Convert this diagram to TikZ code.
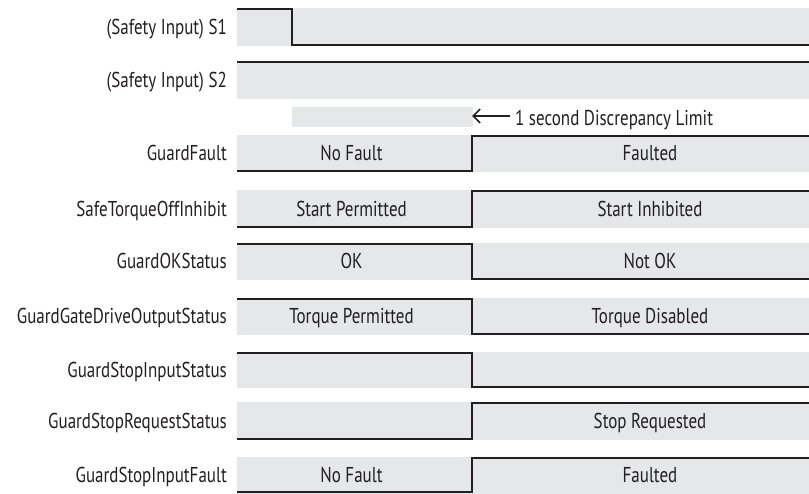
\documentclass[tikz,border=0pt]{standalone}
\usepackage{fontspec}
\setmainfont{PT Sans}[FakeStretch=0.79]
\usetikzlibrary{arrows.meta}
\definecolor{barfill}{HTML}{E6E7E8}
\definecolor{sig}{HTML}{231F20}
\tikzset{
  bar/.style={fill=barfill, draw=none},
  sigline/.style={draw=sig, line width=2.4pt, line join=miter},
  txt/.style={font=\fontsize{21.5}{21.5}\selectfont, text=sig, inner sep=0pt, text height=15pt, text depth=0pt},
  lbl/.style={txt, anchor=east},
  val/.style={txt, anchor=center},
}
\begin{document}
\begin{tikzpicture}[x=1pt,y=-1pt]
\useasboundingbox (0,0) rectangle (809,494);
% bars
\fill[bar] (237,8) rectangle (809,46);
\fill[bar] (237,61) rectangle (809,99);
\fill[bar] (292,107) rectangle (473,127);
\fill[bar] (237,135) rectangle (809,172);
\fill[bar] (237,190) rectangle (809,228);
\fill[bar] (237,243) rectangle (809,280);
\fill[bar] (237,298) rectangle (809,335);
\fill[bar] (237,352) rectangle (809,388);
\fill[bar] (237,402) rectangle (809,440);
\fill[bar] (237,457) rectangle (809,494);
% signal lines
\draw[sigline] (237,9) -- (292,9) -- (292,45) -- (809,45);
\draw[sigline] (237,62) -- (809,62);
\draw[sigline] (237,171) -- (472,171) -- (472,136) -- (809,136);
\draw[sigline] (237,227) -- (472,227) -- (472,191) -- (809,191);
\draw[sigline] (237,244) -- (472,244) -- (472,279) -- (809,279);
\draw[sigline] (237,299) -- (472,299) -- (472,334) -- (809,334);
\draw[sigline] (237,353) -- (472,353) -- (472,387) -- (809,387);
\draw[sigline] (237,439) -- (472,439) -- (472,403) -- (809,403);
\draw[sigline] (237,492) -- (472,492) -- (472,458) -- (809,458);
% labels
\node[lbl] (l1) at (227,27) {(Safety Input) S1};
\node[lbl] (l2) at (227,80) {(Safety Input) S2};
\node[lbl] (l3) at (227,153.5) {GuardFault};
\node[lbl] (l4) at (227,209) {SafeTorqueOffInhibit};
\node[lbl] (l5) at (227,261.5) {GuardOKStatus};
\node[lbl] (l6) at (227,316.5) {GuardGateDriveOutputStatus};
\node[lbl] (l7) at (227,370) {GuardStopInputStatus};
\node[lbl] (l8) at (227,421) {GuardStopRequestStatus};
\node[lbl] (l9) at (227,475) {GuardStopInputFault};
% values
\node[val] (v3a) at (351.5,153.5) {No Fault};
\node[val] (v3b) at (650,153.5) {Faulted};
\node[val] (v4a) at (351.5,209) {Start Permitted};
\node[val] (v4b) at (650,209) {Start Inhibited};
\node[val] (v5a) at (351.5,261.5) {OK};
\node[val] (v5b) at (650,261.5) {Not OK};
\node[val] (v6a) at (351.5,316.5) {Torque Permitted};
\node[val] (v6b) at (650,316.5) {Torque Disabled};
\node[val] (v8b) at (650,421) {Stop Requested};
\node[val] (v9a) at (351.5,475) {No Fault};
\node[val] (v9b) at (650,475) {Faulted};
% discrepancy
\node[txt, anchor=west] (disc) at (515,118) {1 second Discrepancy Limit};
\coordinate (arrowend) at (472,116);
\draw[draw=sig, line width=1.6pt, -{Straight Barb[length=7pt,width=14pt]}] (disc.west) ++(-5,-2) -- (arrowend);
\end{tikzpicture}
\end{document}
